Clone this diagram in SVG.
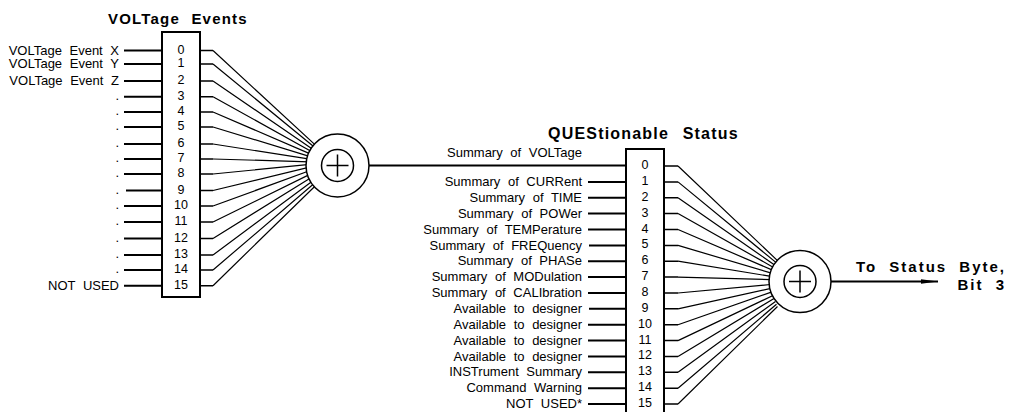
<svg xmlns="http://www.w3.org/2000/svg" width="1011" height="412" viewBox="0 0 1011 412">
<style>
text{font-family:"Liberation Sans",Arial,sans-serif;fill:#000}
.title{font-size:15px;font-weight:bold;letter-spacing:1.2px;word-spacing:6px}
.t2{font-size:16px;letter-spacing:1.2px;word-spacing:8px}
.lbl{font-size:13px;word-spacing:4px;text-anchor:end}
.num{font-size:12.5px;text-anchor:middle}
.out{font-size:15px;font-weight:bold;letter-spacing:2px;word-spacing:6px;text-anchor:end}
.box{fill:#fff;stroke:#000;stroke-width:2}
.in{stroke:#000;stroke-width:2;fill:none}
.stub{stroke:#000;stroke-width:1.5;fill:none}
.fan{stroke:#000;stroke-width:1.2;fill:none}
.ring{fill:#fff;stroke:#000;stroke-width:1.5}
</style>
<defs>
<marker id="ah" markerWidth="18" markerHeight="6" refX="17" refY="3" orient="auto" markerUnits="userSpaceOnUse">
<path d="M0,0.7 L17,3 L0,5.3 Z" fill="#000"/>
</marker>
</defs>

<g id="connectors">
<path class="in" d="M124,50.5H162M124,64H162M124,81H162M124,96.7H162M124,112H162M124,127H162M124,144H162M124,159H162M124,174H162M126,190.5H162M124,206H162M124,222H162M124,238.5H162M124,255H162M124,270H162M124,285.7H162"/>
<path class="stub" d="M200,50.5H213M200,64H213M200,81H213M200,96.7H213M200,112H213M200,127H213M200,144H213M200,159H213M200,174H213M200,190.5H213M200,206H213M200,222H213M200,238.5H213M200,255H213M200,270H213M200,285.7H213"/>
<path class="fan" d="M213,50.5L314.4,144.1M213,64L313.3,146.3M213,81L312.3,148.9M213,96.7L311.4,151.4M213,112L310.8,154.1M213,127L310.2,156.6M213,144L309.9,159.2M213,159L309.6,161.8M213,174L309.8,164.4M213,190.5L309.6,167.2M213,206L310.1,170.5M213,222L310.8,173.9M213,238.5L311.3,177.5M213,255L312.6,180.9M213,270L313.5,184M213,285.7L314.4,186.7"/>
<path class="in" d="M369,165.5H626"/>
<path class="in" d="M588,181.9H626M588,197.7H626M588,213.6H626M588,229.5H626M589,245.4H626M588,261.2H626M588,277.1H626M588,293H626M589,308.8H626M588,324.7H626M588,340.6H626M588,356.4H626M588,372.3H626M588,388.2H626M588,404H626"/>
<path class="stub" d="M664,166H678M664,181.9H678M664,197.7H678M664,213.6H678M664,229.5H678M664,245.4H678M664,261.2H678M664,277.1H678M664,293H678M664,308.8H678M664,324.7H678M664,340.6H678M664,356.4H678M664,372.3H678M664,388.2H678M664,404H678"/>
<path class="fan" d="M678,166L777.5,260.6M678,181.9L776.5,262.9M678,197.7L775.3,265.5M678,213.6L774.4,267.9M678,229.5L773.6,270.6M678,245.4L772.3,273.3M678,261.2L771.1,276.4M678,277.1L770.4,279.6M678,293L770.4,284.5M678,308.8L771,288.3M678,324.7L772,291.9M678,340.6L773,295.5M678,356.4L774,298.5M678,372.3L775.5,301.5M678,388.2L776.5,304.3M678,404L777.5,306.5"/>
<path class="in" d="M831,281.5H938" marker-end="url(#ah)"/>
</g>

<g id="voltage-events">
<text class="title" x="108" y="24">VOLTage Events</text>
<rect class="box" x="162" y="32" width="38" height="265"/>
<text class="num" x="181" y="53.5">0</text>
<text class="num" x="181" y="67">1</text>
<text class="num" x="181" y="84">2</text>
<text class="num" x="181" y="99.7">3</text>
<text class="num" x="181" y="115">4</text>
<text class="num" x="181" y="130">5</text>
<text class="num" x="181" y="147">6</text>
<text class="num" x="181" y="162">7</text>
<text class="num" x="181" y="177">8</text>
<text class="num" x="181" y="193.5">9</text>
<text class="num" x="181" y="209">10</text>
<text class="num" x="181" y="225">11</text>
<text class="num" x="181" y="241.5">12</text>
<text class="num" x="181" y="258">13</text>
<text class="num" x="181" y="273">14</text>
<text class="num" x="181" y="288.7">15</text>
<text class="lbl" x="119" y="54.5">VOLTage Event X</text>
<text class="lbl" x="119" y="68">VOLTage Event Y</text>
<text class="lbl" x="119" y="85">VOLTage Event Z</text>
<text class="lbl" x="119" y="100">.</text>
<text class="lbl" x="119" y="115.3">.</text>
<text class="lbl" x="119" y="130.3">.</text>
<text class="lbl" x="119" y="147.3">.</text>
<text class="lbl" x="119" y="162.3">.</text>
<text class="lbl" x="119" y="177.3">.</text>
<text class="lbl" x="119" y="193.8">.</text>
<text class="lbl" x="119" y="209.3">.</text>
<text class="lbl" x="119" y="225.3">.</text>
<text class="lbl" x="119" y="241.8">.</text>
<text class="lbl" x="119" y="258.3">.</text>
<text class="lbl" x="119" y="273.3">.</text>
<text class="lbl" x="119" y="290">NOT USED</text>
</g>

<g id="or-voltage">
<circle class="ring" cx="337.5" cy="165.5" r="31.5"/>
<circle class="ring" cx="337.5" cy="165.5" r="16"/>
<path class="stub" d="M326.5,165.5H348.5M337.5,154.5V176.5"/>
</g>

<g id="questionable-status">
<text class="title t2" x="548" y="139">QUEStionable Status</text>
<text class="lbl" x="582" y="157">Summary of VOLTage</text>
<rect class="box" x="626" y="149" width="38" height="280"/>
<text class="num" x="645" y="169">0</text>
<text class="num" x="645" y="184.9">1</text>
<text class="num" x="645" y="200.7">2</text>
<text class="num" x="645" y="216.6">3</text>
<text class="num" x="645" y="232.5">4</text>
<text class="num" x="645" y="248.4">5</text>
<text class="num" x="645" y="264.2">6</text>
<text class="num" x="645" y="280.1">7</text>
<text class="num" x="645" y="296">8</text>
<text class="num" x="645" y="311.8">9</text>
<text class="num" x="645" y="327.7">10</text>
<text class="num" x="645" y="343.6">11</text>
<text class="num" x="645" y="359.4">12</text>
<text class="num" x="645" y="375.3">13</text>
<text class="num" x="645" y="391.2">14</text>
<text class="num" x="645" y="407">15</text>
<text class="lbl" x="582" y="186">Summary of CURRent</text>
<text class="lbl" x="582" y="201.8">Summary of TIME</text>
<text class="lbl" x="582" y="217.7">Summary of POWer</text>
<text class="lbl" x="582" y="233.6">Summary of TEMPerature</text>
<text class="lbl" x="582" y="249.5">Summary of FREQuency</text>
<text class="lbl" x="582" y="265.3">Summary of PHASe</text>
<text class="lbl" x="582" y="281.2">Summary of MODulation</text>
<text class="lbl" x="582" y="297.1">Summary of CALIbration</text>
<text class="lbl" x="582" y="312.9">Available to designer</text>
<text class="lbl" x="582" y="328.8">Available to designer</text>
<text class="lbl" x="582" y="344.7">Available to designer</text>
<text class="lbl" x="582" y="360.5">Available to designer</text>
<text class="lbl" x="582" y="376.4">INSTrument Summary</text>
<text class="lbl" x="582" y="392.3">Command Warning</text>
<text class="lbl" x="582" y="408.1">NOT USED*</text>
</g>

<g id="or-questionable">
<circle class="ring" cx="800" cy="281.5" r="31"/>
<circle class="ring" cx="800" cy="281.5" r="16"/>
<path class="stub" d="M789,281.5H811M800,270.5V292.5"/>
</g>

<g id="status-byte">
<text class="out" x="1006" y="272">To Status Byte,</text>
<text class="out" x="1006" y="290">Bit 3</text>
</g>
</svg>
